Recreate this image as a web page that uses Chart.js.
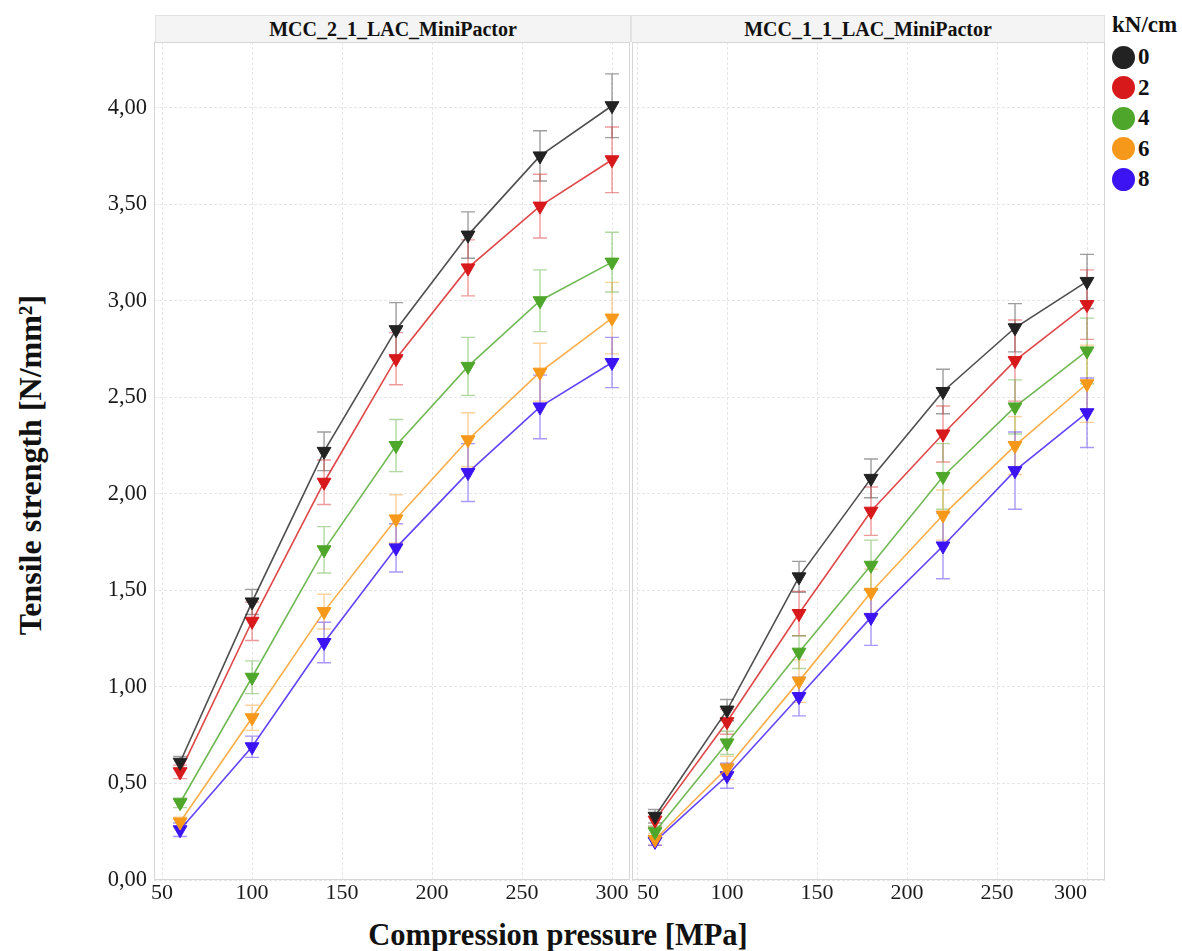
<!DOCTYPE html>
<html>
<head>
<meta charset="utf-8">
<script src="https://cdn.jsdelivr.net/npm/chart.js@4.4.1/dist/chart.umd.min.js"></script>
<style>
  body { margin: 0; background: #fff; font-family: "Liberation Serif", "Times New Roman", serif; }
  #page { position: relative; width: 1182px; height: 951px; overflow: hidden; }
  .wrap { position: absolute; }
  .hdr {
    position: absolute; top: 15px; height: 27px; box-sizing: border-box;
    background: #f4f4f4; border: 1px solid #e2e2e2; border-bottom: none;
    font-weight: bold; font-size: 20px; color: #111;
    text-align: center; line-height: 26px;
  }
  #ytitle {
    position: absolute; left: 30px; top: 465px; transform: translate(-50%, -50%) rotate(-90deg);
    font-weight: bold; font-size: 32px; color: #111; white-space: nowrap;
  }
  #xtitle {
    position: absolute; left: 558px; top: 935px; transform: translate(-50%, -50%);
    font-weight: bold; font-size: 30.5px; color: #111; white-space: nowrap;
  }
  #legend { position: absolute; left: 1112px; top: 12px; color: #111; font-weight: bold; }
  #legend .ttl { font-size: 23px; margin-bottom: 4px; }
  #legend .item { display: flex; align-items: center; height: 30.5px; font-size: 23px; }
  #legend .dot { width: 23px; height: 23px; border-radius: 50%; margin-right: 3px; }
</style>
</head>
<body>
<div id="page">
  <div id="ytitle">Tensile strength [N/mm²]</div>
  <div class="hdr" style="left:155px; width:476px;">MCC_2_1_LAC_MiniPactor</div>
  <div class="hdr" style="left:631px; width:474px;">MCC_1_1_LAC_MiniPactor</div>
  <div class="wrap" style="left:0px; top:42px; width:630px; height:868px;"><canvas id="chartLeft"></canvas></div>
  <div class="wrap" style="left:632px; top:42px; width:473px; height:868px;"><canvas id="chartRight"></canvas></div>
  <div id="xtitle">Compression pressure [MPa]</div>
  <div id="legend"><div class="ttl">kN/cm</div></div>
</div>
<script>
// x values (compression pressure, MPa) and axis ticks
const pressure = [60, 100, 140, 180, 220, 260, 300];
const xTicks = [50, 100, 150, 200, 250, 300];
const yTicks = [0, 0.5, 1, 1.5, 2, 2.5, 3, 3.5, 4];
const loads = ['0', '2', '4', '6', '8'];
const loadColors = ['#222222', '#d7191c', '#4ea72a', '#f6991b', '#3c14f4'];

// MCC_2_1_LAC_MiniPactor - mean tensile strength per roller load
const mcc21_k0 = [0.61, 1.44, 2.22, 2.85, 3.34, 3.75, 4.01];
const mcc21_k2 = [0.56, 1.34, 2.06, 2.70, 3.17, 3.49, 3.73];
const mcc21_k4 = [0.40, 1.05, 1.71, 2.25, 2.66, 3.00, 3.20];
const mcc21_k6 = [0.30, 0.84, 1.39, 1.87, 2.28, 2.63, 2.91];
const mcc21_k8 = [0.26, 0.69, 1.23, 1.72, 2.11, 2.45, 2.68];
// standard deviations
const mcc21_k0_sd = [0.03, 0.065, 0.10, 0.14, 0.12, 0.13, 0.165];
const mcc21_k2_sd = [0.035, 0.10, 0.115, 0.135, 0.145, 0.165, 0.17];
const mcc21_k4_sd = [0.025, 0.085, 0.12, 0.135, 0.15, 0.16, 0.155];
const mcc21_k6_sd = [0.025, 0.065, 0.09, 0.125, 0.14, 0.15, 0.185];
const mcc21_k8_sd = [0.035, 0.055, 0.105, 0.125, 0.15, 0.165, 0.13];

// MCC_1_1_LAC_MiniPactor
const mcc11_k0 = [0.33, 0.88, 1.57, 2.08, 2.53, 2.86, 3.10];
const mcc11_k2 = [0.31, 0.82, 1.38, 1.91, 2.31, 2.69, 2.98];
const mcc11_k4 = [0.25, 0.71, 1.18, 1.63, 2.09, 2.45, 2.74];
const mcc11_k6 = [0.21, 0.58, 1.03, 1.49, 1.89, 2.25, 2.57];
const mcc11_k8 = [0.20, 0.54, 0.95, 1.36, 1.73, 2.12, 2.42];
const mcc11_k0_sd = [0.035, 0.055, 0.08, 0.10, 0.115, 0.125, 0.14];
const mcc11_k2_sd = [0.035, 0.065, 0.115, 0.125, 0.145, 0.21, 0.18];
const mcc11_k4_sd = [0.03, 0.06, 0.085, 0.13, 0.17, 0.14, 0.17];
const mcc11_k6_sd = [0.03, 0.06, 0.11, 0.12, 0.13, 0.15, 0.20];
const mcc11_k8_sd = [0.02, 0.065, 0.10, 0.145, 0.17, 0.20, 0.18];

Chart.defaults.font.family = '"Liberation Serif", "Times New Roman", serif';
Chart.defaults.color = '#1a1a1a';

// error bars + light frame round the plot area
const errorBars = {
    id: 'errorBars',
    beforeDatasetsDraw(chart) {
        const { ctx, chartArea: a, scales: { x, y } } = chart;
        ctx.save();
        ctx.strokeStyle = '#d6d6d6';
        ctx.lineWidth = 1;
        ctx.strokeRect(a.left + 0.5, a.top + 0.5, a.right - a.left - 1, a.bottom - a.top - 1);
        chart.data.datasets.forEach(ds => {
            ctx.strokeStyle = ds.errColor;
            ctx.lineWidth = 1.4;
            ds.data.forEach((pt, j) => {
                const px = x.getPixelForValue(pt.x);
                const top = y.getPixelForValue(pt.y + ds.sd[j]);
                const bot = y.getPixelForValue(pt.y - ds.sd[j]);
                ctx.beginPath();
                ctx.moveTo(px, top); ctx.lineTo(px, bot);
                ctx.moveTo(px - 7, top); ctx.lineTo(px + 7, top);
                ctx.moveTo(px - 7, bot); ctx.lineTo(px + 7, bot);
                ctx.stroke();
            });
        });
        ctx.restore();
    }
};

function makeDatasets(means, sds) {
    return loads.map((load, i) => ({
        label: load,
        data: pressure.map((p, j) => ({ x: p, y: means[i][j] })),
        sd: sds[i],
        errColor: loadColors[i] + '70',
        borderColor: loadColors[i] + 'cc',
        backgroundColor: loadColors[i],
        borderWidth: 1.6,
        pointStyle: 'triangle',
        pointRotation: 180,
        pointRadius: 8,
        pointBorderColor: loadColors[i],
        pointBackgroundColor: loadColors[i],
        pointBorderWidth: 1,
        tension: 0
    }));
}

function noPad(s) {
    s.paddingLeft = 0; s.paddingRight = 0; s.paddingTop = 0; s.paddingBottom = 0;
}

function makeChart(id, datasets, xMin, showY) {
    const ctx = document.getElementById(id).getContext('2d');
    return new Chart(ctx, {
        type: 'line',
        data: { datasets },
        options: {
            responsive: true,
            maintainAspectRatio: false,
            animation: false,
            layout: { padding: 0, autoPadding: false },
            plugins: { legend: { display: false }, tooltip: { enabled: false } },
            scales: {
                x: {
                    type: 'linear',
                    min: xMin,
                    max: 310,
                    afterBuildTicks: s => { s.ticks = xTicks.map(v => ({ value: v })); },
                    afterFit: s => { s.height = 30; noPad(s); },
                    grid: { color: '#e6e6e6', drawTicks: false },
                    border: { display: false, dash: [3, 2] },
                    ticks: {
                        font: { size: 22 }, padding: 0, maxRotation: 0, autoSkip: false,
                        align: showY ? 'center' : 'inner',
                        callback: v => String(v)
                    }
                },
                y: {
                    min: 0,
                    max: 4.34,
                    afterBuildTicks: s => { s.ticks = yTicks.map(v => ({ value: v })); },
                    afterFit: s => { s.width = showY ? 154 : 0; noPad(s); },
                    grid: { color: '#e6e6e6', drawTicks: false },
                    border: { display: false, dash: [3, 2] },
                    ticks: {
                        display: showY,
                        font: { size: 22.5 }, padding: 7,
                        callback: v => v.toFixed(2).replace('.', ',')
                    }
                }
            }
        },
        plugins: [errorBars]
    });
}

makeChart('chartLeft',
    makeDatasets([mcc21_k0, mcc21_k2, mcc21_k4, mcc21_k6, mcc21_k8],
                 [mcc21_k0_sd, mcc21_k2_sd, mcc21_k4_sd, mcc21_k6_sd, mcc21_k8_sd]),
    45.5, true);
makeChart('chartRight',
    makeDatasets([mcc11_k0, mcc11_k2, mcc11_k4, mcc11_k6, mcc11_k8],
                 [mcc11_k0_sd, mcc11_k2_sd, mcc11_k4_sd, mcc11_k6_sd, mcc11_k8_sd]),
    47.2, false);

// legend
const legendEl = document.getElementById('legend');
loads.forEach((load, i) => {
    const item = document.createElement('div');
    item.className = 'item';
    item.innerHTML = `<span class="dot" style="background:${loadColors[i]}"></span>${load}`;
    legendEl.appendChild(item);
});
</script>
</body>
</html>
